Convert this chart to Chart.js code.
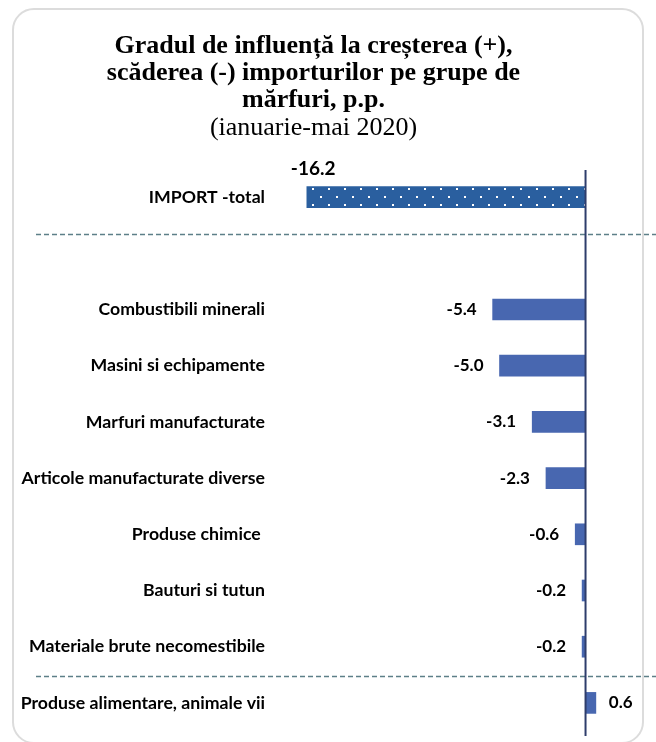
<!DOCTYPE html>
<html>
<head>
<meta charset="utf-8">
<script src="https://cdn.jsdelivr.net/npm/chart.js@4.4.1/dist/chart.umd.min.js"></script>
<style>
  html, body { margin: 0; padding: 0; background: #fff; }
  #frame {
    position: absolute; left: 12px; top: 8px; width: 632px; height: 736px;
    border: 2px solid #dcdcdc; border-radius: 22px; box-sizing: border-box;
  }
  #chart { position: absolute; left: 0; top: 0; }
</style>
</head>
<body>
<div id="frame"></div>
<canvas id="chart" width="656" height="742"></canvas>
<script>
const categories = [
  "IMPORT -total",
  "",
  "Combustibili minerali",
  "Masini si echipamente",
  "Marfuri manufacturate",
  "Articole manufacturate diverse",
  "Produse chimice ",
  "Bauturi si tutun",
  "Materiale brute necomestibile",
  "Produse alimentare, animale vii",
];
const influence = [-16.2, null, -5.4, -5.0, -3.1, -2.3, -0.6, -0.2, -0.2, 0.6];
// dashed separators, as positions on the category axis
const separators = [0.66, 8.52];

const labelFont = "Lato, 'Open Sans', sans-serif";
const titleFont = "'Liberation Serif', serif";

// dotted fill for the total bar
const makeDots = () => {
  const tile = document.createElement("canvas");
  tile.width = 16;
  tile.height = 16;
  const t = tile.getContext("2d");
  t.fillStyle = "#2a5f9f";
  t.fillRect(0, 0, 16, 16);
  t.fillStyle = "#ffffff";
  t.fillRect(0, 4, 2, 2);
  t.fillRect(8, 12, 2, 2);
  return document.getElementById("chart").getContext("2d").createPattern(tile, "repeat");
};

const barColors = influence.map((v, i) => (i === 0 ? makeDots() : "#4867b0"));

const extras = {
  id: "extras",
  afterDatasetsDraw(chart) {
    const { ctx, chartArea, scales } = chart;
    const y = scales.y;
    const x0 = scales.x.getPixelForValue(0);

    ctx.save();
    ctx.strokeStyle = "#5d7f88";
    ctx.lineWidth = 1.5;
    ctx.setLineDash([5, 3]);
    separators.forEach((s) => {
      const py = Math.round(y.getPixelForValue(s)) + 0.5;
      ctx.beginPath();
      ctx.moveTo(36, py);
      ctx.lineTo(656, py);
      ctx.stroke();
    });
    ctx.setLineDash([]);

    // zero axis
    ctx.strokeStyle = "#2e3d6b";
    ctx.lineWidth = 2;
    ctx.beginPath();
    ctx.moveTo(x0, chartArea.top + 1);
    ctx.lineTo(x0, chartArea.bottom + 5);
    ctx.stroke();

    // value labels
    const meta = chart.getDatasetMeta(0);
    ctx.fillStyle = "#000";
    ctx.textBaseline = "middle";
    meta.data.forEach((bar, i) => {
      const v = influence[i];
      if (v === null) return;
      const txt = v.toFixed(1);
      if (i === 0) {
        ctx.font = "bold 19px " + labelFont;
        ctx.textAlign = "left";
        ctx.fillText(txt, bar.x - 16, bar.y - 28);
      } else if (v < 0) {
        ctx.font = "bold 17px " + labelFont;
        ctx.textAlign = "right";
        ctx.fillText(txt, bar.x - 16, bar.y);
      } else {
        ctx.font = "bold 17px " + labelFont;
        ctx.textAlign = "left";
        ctx.fillText(txt, bar.x + 13, bar.y);
      }
    });
    ctx.restore();
  },
};

new Chart(document.getElementById("chart"), {
  type: "bar",
  data: {
    labels: categories,
    datasets: [
      {
        data: influence,
        backgroundColor: barColors,
        barThickness: 21,
        borderWidth: 0,
      },
    ],
  },
  options: {
    indexAxis: "y",
    responsive: false,
    animation: false,
    layout: { padding: { left: 0, right: 29, bottom: 11, top: 0 } },
    plugins: {
      legend: { display: false },
      tooltip: { enabled: false },
      title: {
        display: true,
        text: [
          "Gradul de influență la creșterea (+),",
          "scăderea (-) importurilor pe grupe de",
          "mărfuri, p.p.",
        ],
        color: "#000",
        font: { family: titleFont, size: 26, weight: "bold", lineHeight: "27px" },
        padding: { top: 33, bottom: 0 },
      },
      subtitle: {
        display: true,
        text: "(ianuarie-mai 2020)",
        color: "#000",
        font: { family: titleFont, size: 26, weight: "normal", lineHeight: "27px" },
        padding: { top: 0.5, bottom: 27.5 },
      },
    },
    scales: {
      x: { display: false, min: -17.76, max: 2.41 },
      y: {
        grid: { display: false, drawTicks: false },
        border: { display: false },
        ticks: {
          color: "#000",
          padding: 15,
          font: { family: labelFont, size: 17.7, weight: "bold" },
        },
        afterFit: (scale) => {
          scale.width = 280;
          scale.paddingTop = 0;
          scale.paddingBottom = 0;
        },
      },
    },
  },
  plugins: [extras],
});
</script>
</body>
</html>
